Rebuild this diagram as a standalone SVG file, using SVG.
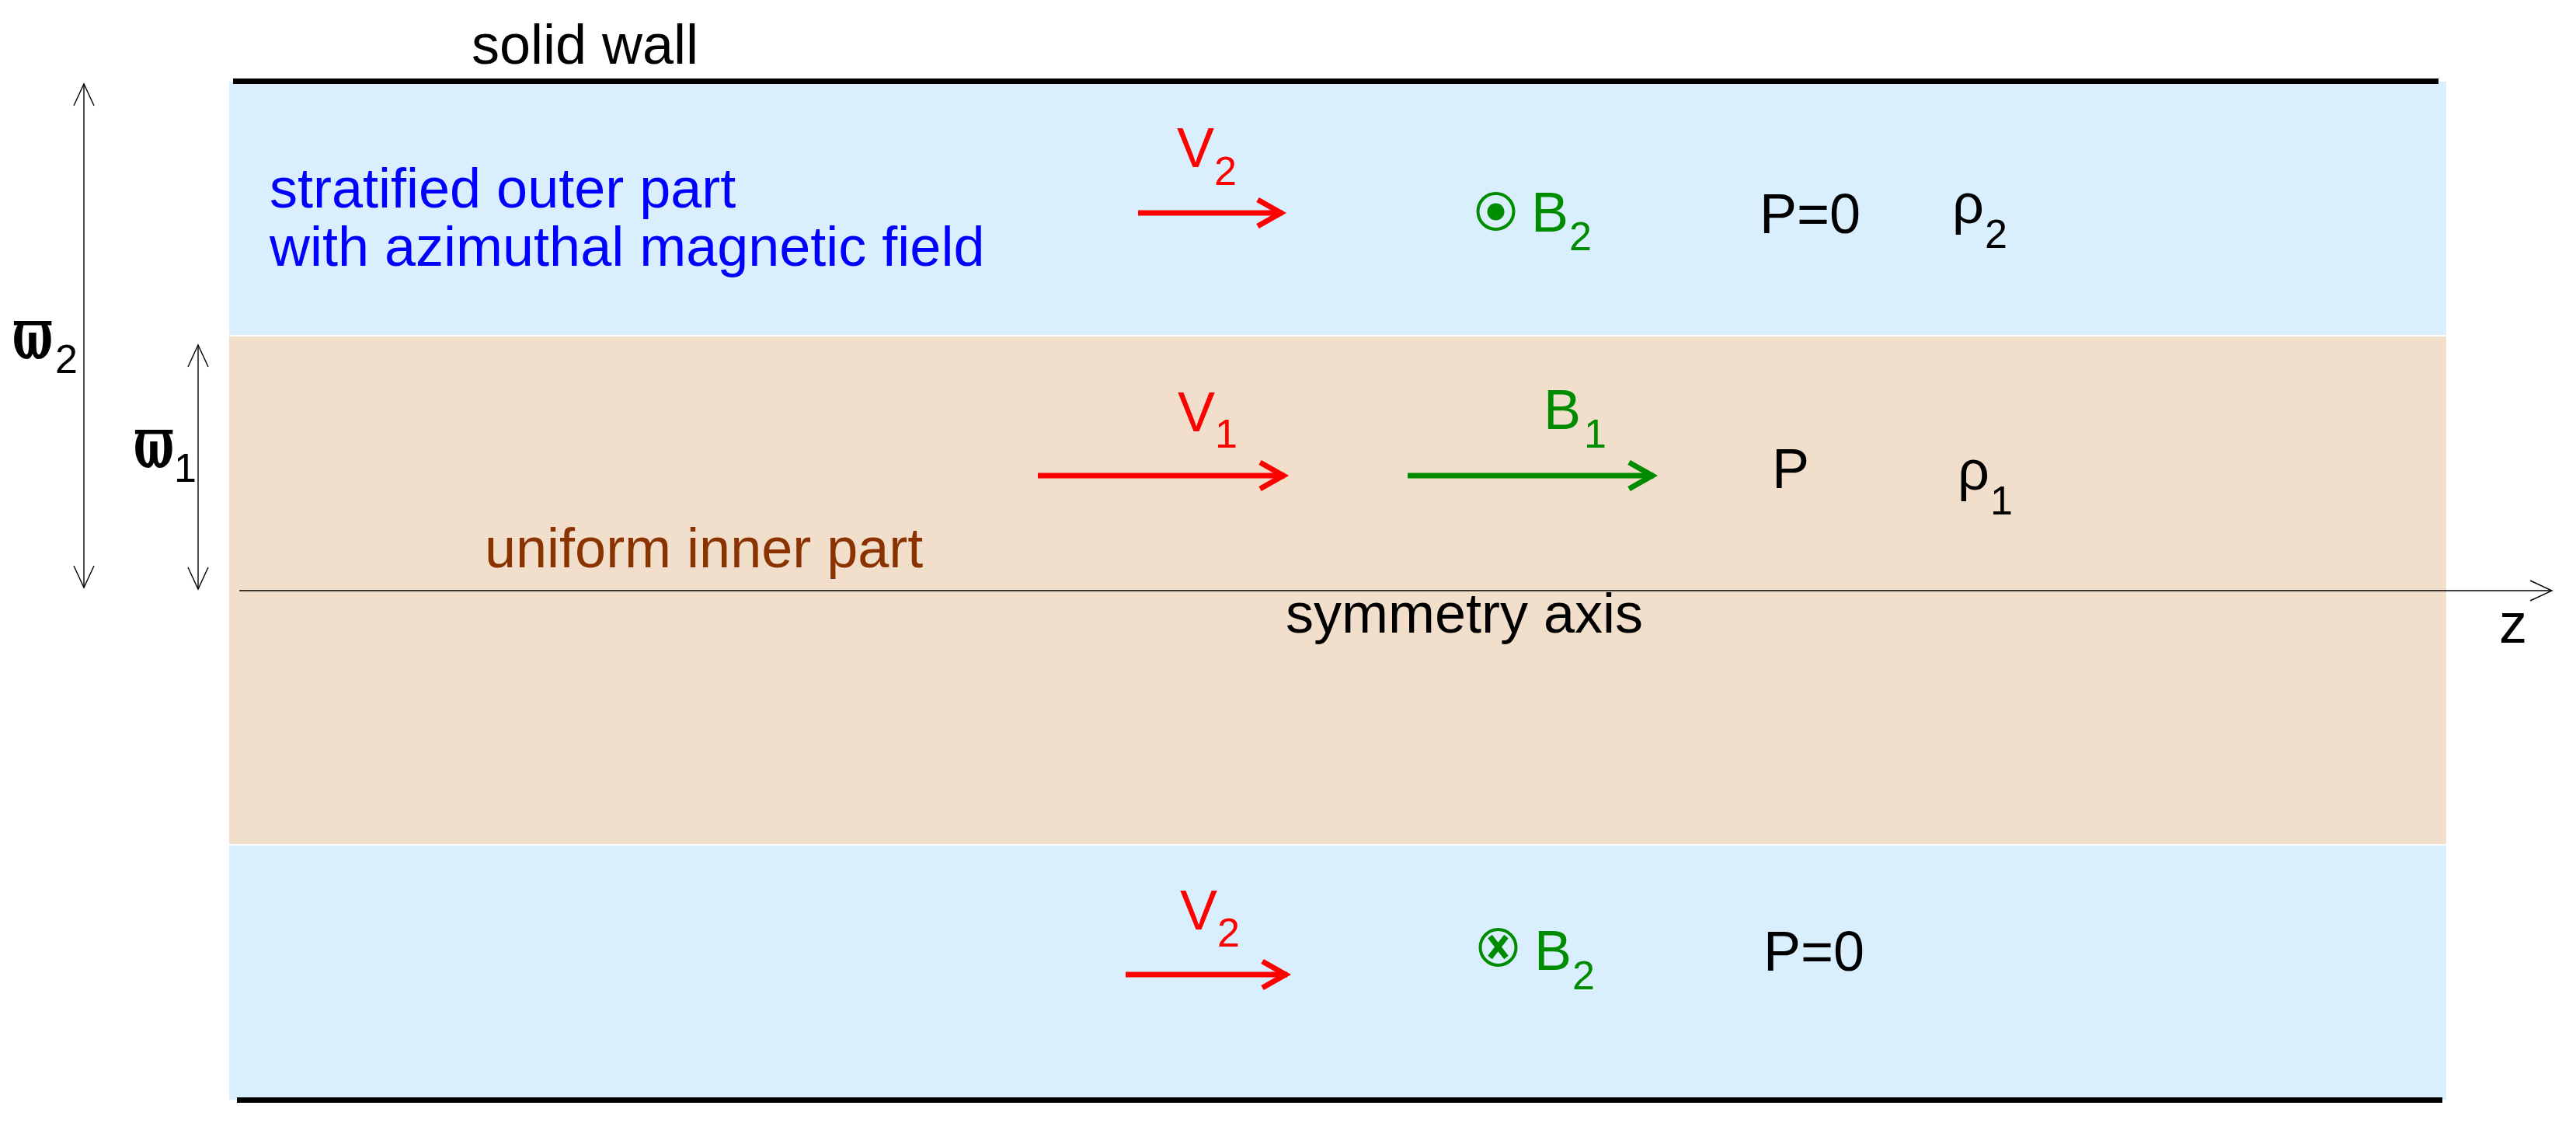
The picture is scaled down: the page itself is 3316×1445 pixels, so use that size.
<svg xmlns="http://www.w3.org/2000/svg" width="3316" height="1445" viewBox="0 0 3316 1445">
<style>
text{font-family:"Liberation Sans","DejaVu Sans",Arial,sans-serif;font-size:72px}
.sub{font-size:52px}
.blk{fill:#000}
.red{fill:#ff0000}
.grn{fill:#008c00}
.blu{fill:#0000ff}
.brn{fill:#8b3300}
.varpi{font-family:"DejaVu Serif","Liberation Serif",serif;font-size:94px;font-weight:bold}
.thin{stroke:#000;stroke-width:1.4;fill:none}
.thick-r{stroke:#ff0000;stroke-width:7;fill:none}
.thick-g{stroke:#008c00;stroke-width:7;fill:none}
.wall{stroke:#000;stroke-width:7}
</style>
<defs>
<marker id="ht" markerUnits="userSpaceOnUse" viewBox="-40 -20 50 40" refX="0" refY="0" markerWidth="50" markerHeight="40" orient="auto-start-reverse" overflow="visible">
<path d="M-28,-13 L0,0 L-28,13" fill="none" stroke="#000" stroke-width="1.4"/>
</marker>
<marker id="hr" markerUnits="userSpaceOnUse" viewBox="-50 -30 60 60" refX="0" refY="0" markerWidth="60" markerHeight="60" orient="auto" overflow="visible">
<path d="M-32,-17 L-2,0 L-32,17" fill="none" stroke="#ff0000" stroke-width="7"/>
</marker>
<marker id="hg" markerUnits="userSpaceOnUse" viewBox="-50 -30 60 60" refX="0" refY="0" markerWidth="60" markerHeight="60" orient="auto" overflow="visible">
<path d="M-32,-17 L-2,0 L-32,17" fill="none" stroke="#008c00" stroke-width="7"/>
</marker>
</defs>
<rect width="3316" height="1445" fill="#ffffff"/>
<g id="outer-top"><rect x="295" y="105" width="2854" height="326" fill="#daeffd"/></g>
<g id="inner"><rect x="295" y="433" width="2854" height="653" fill="#f1dfcb"/></g>
<g id="outer-bottom"><rect x="295" y="1088" width="2854" height="327" fill="#daeffd"/></g>
<g id="walls">
<line class="wall" x1="300" y1="104.5" x2="3139" y2="104.5"/>
<line class="wall" x1="305" y1="1415.5" x2="3144" y2="1415.5"/>
</g>
<g id="connectors">
<line class="thin" x1="108" y1="108" x2="108" y2="756" marker-start="url(#ht)" marker-end="url(#ht)"/>
<line class="thin" x1="255" y1="444" x2="255" y2="758" marker-start="url(#ht)" marker-end="url(#ht)"/>
<line class="thin" x1="308" y1="760" x2="3285" y2="760" marker-end="url(#ht)"/>
<line class="thick-r" x1="1465" y1="274" x2="1651" y2="274" marker-end="url(#hr)"/>
<line class="thick-r" x1="1336" y1="612" x2="1654" y2="612" marker-end="url(#hr)"/>
<line class="thick-g" x1="1812" y1="612" x2="2129" y2="612" marker-end="url(#hg)"/>
<line class="thick-r" x1="1449" y1="1254" x2="1657" y2="1254" marker-end="url(#hr)"/>
</g>
<g id="label-solid-wall"><text class="blk" x="607" y="82">solid wall</text></g>
<g id="label-outer"><text class="blu" x="347" y="267">stratified outer part</text><text class="blu" x="347" y="342">with azimuthal magnetic field</text></g>
<g id="label-inner"><text class="brn" x="624" y="730">uniform inner part</text></g>
<g id="label-axis"><text class="blk" x="1655" y="814">symmetry axis</text></g>
<g id="label-z"><text class="blk" x="3217" y="827">z</text></g>
<g id="label-varpi2"><text class="blk varpi" transform="translate(16,462) scale(0.58,1)">ϖ</text><text class="blk sub" x="71" y="480">2</text></g>
<g id="label-varpi1"><text class="blk varpi" transform="translate(172,602) scale(0.58,1)">ϖ</text><text class="blk sub" x="224" y="620">1</text></g>
<g id="label-V2-top"><text class="red"><tspan x="1515" y="215">V</tspan><tspan class="sub" x="1563" y="238">2</tspan></text></g>
<g id="label-B2-top">
<circle cx="1925.5" cy="272" r="23" fill="none" stroke="#008c00" stroke-width="4"/>
<circle cx="1925.5" cy="272.5" r="11" fill="#008c00"/>
<text class="grn"><tspan x="1971" y="298">B</tspan><tspan class="sub" x="2020" y="322">2</tspan></text>
</g>
<g id="label-P0-top"><text class="blk" x="2265" y="300">P=0</text></g>
<g id="label-rho2"><text class="blk"><tspan x="2513" y="287">ρ</tspan><tspan class="sub" x="2555" y="319">2</tspan></text></g>
<g id="label-V1"><text class="red"><tspan x="1516" y="555">V</tspan><tspan class="sub" x="1564" y="576">1</tspan></text></g>
<g id="label-B1"><text class="grn"><tspan x="1987" y="552">B</tspan><tspan class="sub" x="2039" y="576">1</tspan></text></g>
<g id="label-P"><text class="blk" x="2281" y="628">P</text></g>
<g id="label-rho1"><text class="blk"><tspan x="2520" y="630">ρ</tspan><tspan class="sub" x="2562" y="662">1</tspan></text></g>
<g id="label-V2-bottom"><text class="red"><tspan x="1519" y="1196">V</tspan><tspan class="sub" x="1567" y="1218">2</tspan></text></g>
<g id="label-B2-bottom">
<circle cx="1928.5" cy="1219" r="23" fill="none" stroke="#008c00" stroke-width="4"/>
<path d="M1918,1205 L1939,1232 M1939,1205 L1918,1232" stroke="#008c00" stroke-width="7" fill="none"/>
<text class="grn"><tspan x="1975" y="1248">B</tspan><tspan class="sub" x="2024" y="1273">2</tspan></text>
</g>
<g id="label-P0-bottom"><text class="blk" x="2270" y="1249">P=0</text></g>
</svg>
